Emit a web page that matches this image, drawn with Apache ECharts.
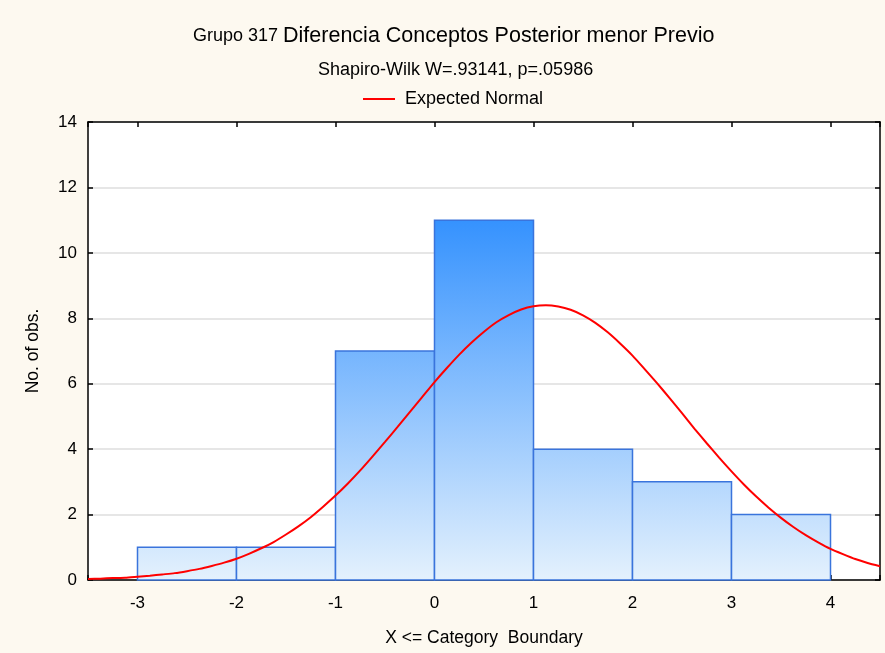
<!DOCTYPE html>
<html>
<head>
<meta charset="utf-8">
<script src="https://cdn.jsdelivr.net/npm/echarts@6/dist/echarts.min.js"></script>
<style>
  html, body { margin: 0; padding: 0; background: #fdf9f0; }
  #chart { width: 885px; height: 653px; }
</style>
</head>
<body>
<div id="chart"></div>
<script>
// Histogram bins: lower edge, upper edge, count
const binLower = [-3, -2, -1, 0, 1, 2, 3];
const binUpper = [-2, -1, 0, 1, 2, 3, 4];
const binCounts = [1, 1, 7, 11, 4, 3, 2];

// Expected normal curve, sampled every 0.125
const curveX = [-3.5, -3.375, -3.25, -3.125, -3, -2.875, -2.75, -2.625, -2.5, -2.375, -2.25, -2.125,
  -2, -1.875, -1.75, -1.625, -1.5, -1.375, -1.25, -1.125, -1, -0.875, -0.75, -0.625, -0.5, -0.375,
  -0.25, -0.125, 0, 0.125, 0.25, 0.375, 0.5, 0.625, 0.75, 0.875, 1, 1.125, 1.25, 1.375, 1.5, 1.625,
  1.75, 1.875, 2, 2.125, 2.25, 2.375, 2.5, 2.625, 2.75, 2.875, 3, 3.125, 3.25, 3.375, 3.5, 3.625,
  3.75, 3.875, 4, 4.125, 4.25, 4.375, 4.5];
const curveY = [0.03, 0.04, 0.06, 0.07, 0.10, 0.13, 0.17, 0.21, 0.27, 0.34, 0.43, 0.53,
  0.65, 0.80, 0.97, 1.16, 1.39, 1.64, 1.92, 2.24, 2.58, 2.95, 3.35, 3.78, 4.22, 4.67,
  5.13, 5.59, 6.05, 6.48, 6.89, 7.26, 7.59, 7.88, 8.10, 8.27, 8.37, 8.40, 8.36, 8.26, 8.09, 7.86,
  7.57, 7.23, 6.86, 6.44, 6.01, 5.56, 5.10, 4.63, 4.18, 3.74, 3.32, 2.92, 2.55, 2.21, 1.90, 1.62,
  1.37, 1.15, 0.95, 0.79, 0.64, 0.52, 0.42];

const yTicks = [0, 2, 4, 6, 8, 10, 12, 14];

const FONT = '"Liberation Sans", Arial, sans-serif';

const chart = echarts.init(document.getElementById('chart'), null, { renderer: 'canvas' });

const binData = binLower.map((lo, i) => [lo, binUpper[i], binCounts[i]]);
const curveData = curveX.map((x, i) => [x, curveY[i]]);
const maxCount = Math.max(...binCounts);

const tickStyle = { show: true, inside: true, length: 5, lineStyle: { color: '#000', width: 1.5 } };
const frameLine = { show: true, onZero: false, lineStyle: { color: '#000', width: 1.5 } };

chart.setOption({
  backgroundColor: '#fdf9f0',
  animation: false,
  textStyle: { fontFamily: FONT },
  title: [
    {
      text: '{a|Grupo 317 }{b|Diferencia Conceptos Posterior menor Previo}',
      left: 193,
      top: 25,
      padding: 0,
      textStyle: {
        fontWeight: 'normal',
        rich: {
          a: { fontSize: 18, fontWeight: 'normal', fontFamily: FONT, color: '#000' },
          b: { fontSize: 21.5, fontWeight: 'normal', fontFamily: FONT, color: '#000' }
        }
      }
    },
    {
      text: 'Shapiro-Wilk W=.93141, p=.05986',
      left: 313,
      top: 56,
      textStyle: { fontSize: 18, fontWeight: 'normal', fontFamily: FONT, color: '#000' }
    }
  ],
  legend: {
    top: 85,
    left: 358,
    itemWidth: 32,
    itemHeight: 2,
    data: [{ name: 'Expected Normal', icon: 'rect' }],
    textStyle: { fontSize: 18, fontFamily: FONT, color: '#000', padding: [0, 0, 0, 5] }
  },
  grid: { left: 88, right: 5, top: 122, bottom: 73, show: true, backgroundColor: '#ffffff', borderWidth: 0 },
  xAxis: [
    {
      type: 'value', min: -3.5, max: 4.5, minInterval: 1, maxInterval: 1,
      position: 'bottom',
      name: 'X <= Category  Boundary',
      nameLocation: 'middle',
      nameGap: 49,
      nameTextStyle: { fontSize: 17.5, fontFamily: FONT, color: '#000' },
      axisLine: frameLine,
      axisTick: tickStyle,
      axisLabel: {
        fontSize: 17, color: '#000', margin: 15, fontFamily: FONT,
        formatter: v => Number.isInteger(v) ? String(v) : ''
      },
      splitLine: { show: false }
    },
    {
      type: 'value', min: -3.5, max: 4.5, minInterval: 1, maxInterval: 1,
      position: 'top',
      axisLine: frameLine,
      axisTick: tickStyle,
      axisLabel: { show: false },
      splitLine: { show: false }
    }
  ],
  yAxis: [
    {
      type: 'value', min: yTicks[0], max: yTicks[yTicks.length - 1], interval: 2,
      position: 'left',
      name: 'No. of obs.',
      nameLocation: 'middle',
      nameGap: 46,
      nameTextStyle: { fontSize: 17.5, fontFamily: FONT, color: '#000' },
      axisLine: frameLine,
      axisTick: tickStyle,
      axisLabel: { fontSize: 17, color: '#000', margin: 11, fontFamily: FONT },
      splitLine: { show: true, lineStyle: { color: '#dedede', width: 1.5 } }
    },
    {
      type: 'value', min: yTicks[0], max: yTicks[yTicks.length - 1], interval: 2,
      position: 'right',
      axisLine: frameLine,
      axisTick: tickStyle,
      axisLabel: { show: false },
      splitLine: { show: false }
    }
  ],
  series: [
    {
      type: 'custom',
      name: 'bins',
      xAxisIndex: 0,
      yAxisIndex: 0,
      z: 2,
      data: binData,
      encode: { x: [0, 1], y: 2 },
      renderItem: function (params, api) {
        const p0 = api.coord([api.value(0), api.value(2)]);
        const p1 = api.coord([api.value(1), 0]);
        const gTop = api.coord([0, maxCount])[1];
        const gBottom = api.coord([0, 0])[1];
        return {
          type: 'rect',
          shape: { x: p0[0], y: p0[1], width: p1[0] - p0[0], height: p1[1] - p0[1] },
          style: {
            fill: {
              type: 'linear', x: 0, y: gTop, x2: 0, y2: gBottom, global: true,
              colorStops: [
                { offset: 0, color: '#3592fe' },
                { offset: 1, color: '#e4f1fd' }
              ]
            },
            stroke: '#3a74dc',
            lineWidth: 1.5
          }
        };
      }
    },
    {
      type: 'line',
      name: 'Expected Normal',
      xAxisIndex: 0,
      yAxisIndex: 0,
      z: 3,
      data: curveData,
      smooth: 0.2,
      symbol: 'none',
      lineStyle: { color: '#ff0000', width: 2 },
      itemStyle: { color: '#ff0000' }
    }
  ]
});
</script>
</body>
</html>
